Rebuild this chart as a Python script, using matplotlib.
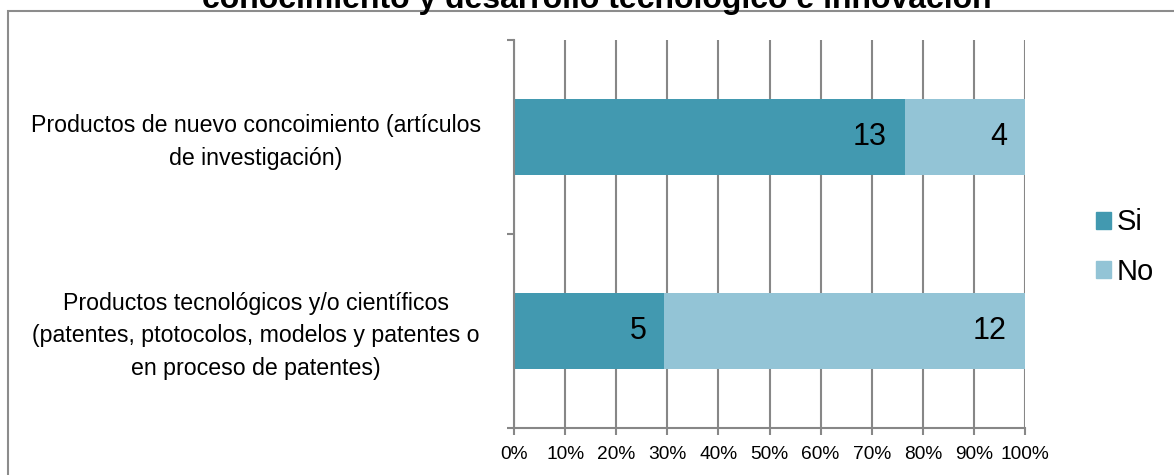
import matplotlib
matplotlib.use("Agg")
import matplotlib.pyplot as plt
import matplotlib.patches as mpatches
import numpy as np

plt.rcParams['font.family'] = ['Liberation Sans', 'DejaVu Sans']

title = "conocimiento y desarrollo tecnológico e innovación"
categories = [
    "Productos tecnológicos y/o científicos\n(patentes, ptotocolos, modelos y patentes o\nen proceso de patentes)",
    "Productos de nuevo concoimiento (artículos\nde investigación)",
]
series_names = ["Si", "No"]
si = [5, 13]
no = [12, 4]
xtick_labels = ["0%", "10%", "20%", "30%", "40%", "50%", "60%", "70%", "80%", "90%", "100%"]

colors = ["#4299B0", "#93C4D6"]
grid_color = "#878787"

W, H = 1174, 475
fig = plt.figure(figsize=(W / 100, H / 100), dpi=100)
ax = fig.add_axes([514 / W, 1 - 428 / H, (1025 - 514) / W, (428 - 40) / H])

si_arr = np.array(si, dtype=float)
no_arr = np.array(no, dtype=float)
tot = si_arr + no_arr
si_p = si_arr / tot
no_p = no_arr / tot
y = np.arange(len(categories))
bh = 0.39

ax.barh(y, si_p, height=bh, color=colors[0], label=series_names[0], zorder=3)
ax.barh(y, no_p, left=si_p, height=bh, color=colors[1], label=series_names[1], zorder=3)

for i in range(len(categories)):
    ax.annotate(str(si[i]), xy=(si_p[i], y[i]), xytext=(-13, 0), textcoords="offset points",
                ha="right", va="center", fontsize=22, zorder=4)
    ax.annotate(str(no[i]), xy=(si_p[i] + no_p[i], y[i]), xytext=(-13, 0), textcoords="offset points",
                ha="right", va="center", fontsize=22, zorder=4)

ax.set_xlim(0, 1)
ax.set_ylim(-0.5, len(categories) - 0.5)
ax.set_xticks(np.linspace(0, 1, len(xtick_labels)))
ax.set_xticklabels(xtick_labels, fontsize=13.8)
ax.set_yticks(np.arange(-0.5, len(categories), 1.0))
ax.set_yticklabels([])
ax.tick_params(axis="x", length=5, width=1.5, color=grid_color, pad=8)
ax.tick_params(axis="y", length=5, width=1.5, color=grid_color)
ax.xaxis.grid(True, color=grid_color, linewidth=1.5, zorder=0)
for s in ["top", "right"]:
    ax.spines[s].set_visible(False)
for s in ["left", "bottom"]:
    ax.spines[s].set_color(grid_color)
    ax.spines[s].set_linewidth(1.5)
    ax.spines[s].set_zorder(5)

# category labels centred to the left
for i, c in enumerate(categories):
    disp = ax.transData.transform((0, y[i]))
    fy = fig.transFigure.inverted().transform(disp)[1] - 5 / H
    fig.text(256 / W, fy, c, ha="center", va="center", multialignment="center",
             fontsize=16.7, linespacing=1.55)

handles = [mpatches.Patch(color=colors[0]), mpatches.Patch(color=colors[1])]
leg = fig.legend(handles, series_names, loc="center left", bbox_to_anchor=(1096 / W, 1 - 247 / H),
                 frameon=False, fontsize=21, handlelength=0.52, handleheight=0.52,
                 handletextpad=0.2, labelspacing=0.72, borderpad=0, borderaxespad=0)

# chart border (extends beyond the visible region)
border = mpatches.Rectangle((8 / W, -0.2), 1.5, 1.2 - 11 / H, transform=fig.transFigure,
                            fill=False, edgecolor="#8C8C8C", linewidth=1.5)
fig.add_artist(border)

fig.text(597 / W, 1 - 8 / H, title, ha="center", va="baseline", fontsize=23, fontweight="bold")

fig.savefig("out.png", dpi=100)
